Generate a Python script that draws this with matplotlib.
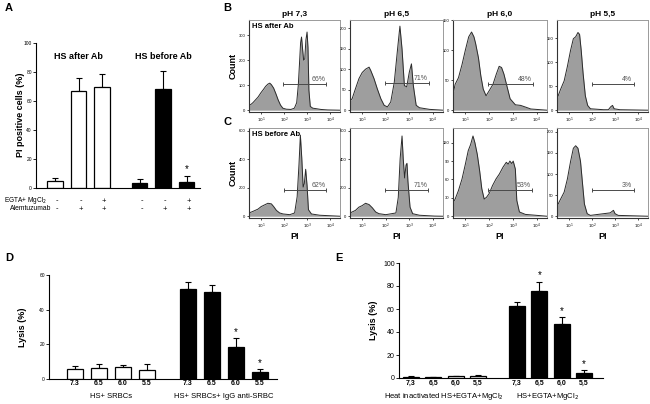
import numpy as np
import matplotlib
matplotlib.use("Agg")
import matplotlib.pyplot as plt

plt.rcParams['font.family'] = ['Liberation Sans', 'DejaVu Sans']

# ---- panel A data ----
a_vals = [5.0, 67.0, 70.0, 3.5, 68.0, 4.4]
a_err = [2.0, 8.7, 8.5, 2.5, 12.5, 4.0]
a_egta = ['-', '-', '+', '-', '-', '+']
a_alem = ['-', '+', '+', '-', '+', '+']
a_groups = ['HS after Ab', 'HS before Ab']

# ---- panel B/C histograms (x in log10 decades, y = count) ----
ph_titles = ['pH 7,3', 'pH 6,5', 'pH 6,0', 'pH 5,5']

b1_x = [0.46, 0.55, 0.65, 0.75, 0.87, 1.0, 1.1, 1.2, 1.3, 1.38, 1.45, 1.55, 1.65, 1.75, 1.85, 1.95, 2.1, 2.3,
        2.45, 2.55, 2.62, 2.68, 2.72, 2.76, 2.80, 2.85, 2.90, 2.95, 3.0, 3.04, 3.08, 3.14, 3.25, 3.4, 3.6, 3.9, 4.43]
b1_y = [20, 22, 30, 40, 52, 70, 82, 95, 104, 108, 102, 88, 65, 40, 20, 8, 4, 3,
        8, 30, 100, 200, 270, 292, 250, 200, 205, 280, 312, 250, 80, 15, 8, 6, 3, 1, 0]
b2_x = [0.43, 0.57, 0.71, 0.86, 1.0, 1.14, 1.29, 1.36, 1.5, 1.64, 1.79, 1.93, 2.07, 2.21, 2.36, 2.5, 2.6,
        2.69, 2.79, 2.89, 3.0, 3.09, 3.17, 3.29, 3.43, 3.86, 4.43]
b2_y = [20, 28, 52, 77, 92, 100, 105, 97, 77, 52, 28, 12, 8, 20, 68, 149, 205,
        149, 60, 57, 93, 113, 60, 12, 6, 2, 0]
b3_x = [0.45, 0.57, 0.71, 0.86, 1.0, 1.14, 1.26, 1.36, 1.43, 1.55, 1.65, 1.75, 1.87, 2.01, 2.16, 2.30, 2.42,
        2.52, 2.62, 2.74, 2.88, 3.10, 3.32, 3.54, 3.75, 4.43]
b3_y = [22, 43, 54, 76, 100, 122, 130, 122, 111, 87, 57, 35, 24, 33, 43, 60, 73,
        71, 60, 41, 19, 9, 8, 5, 2, 0]
b4_x = [0.48, 0.53, 0.64, 0.79, 0.93, 1.07, 1.19, 1.29, 1.39, 1.46, 1.53, 1.61, 1.71, 1.81, 1.93, 2.5, 2.71,
        2.81, 2.89, 2.96, 3.21, 4.43]
b4_y = [25, 30, 44, 61, 91, 125, 149, 153, 162, 158, 125, 78, 30, 10, 3, 1, 1,
        7, 10, 3, 1, 0]
c1_x = [0.48, 0.65, 0.87, 1.01, 1.16, 1.30, 1.45, 1.55, 1.67, 1.81, 1.96, 2.25, 2.46, 2.57, 2.65, 2.71, 2.77,
        2.83, 2.88, 2.94, 3.0, 3.06, 3.19, 3.55, 4.43]
c1_y = [23, 34, 50, 68, 80, 91, 87, 68, 41, 23, 16, 11, 23, 137, 365, 570, 410,
        205, 228, 330, 216, 46, 16, 7, 0]
c2_x = [0.43, 0.57, 0.71, 0.86, 1.0, 1.14, 1.29, 1.43, 1.57, 1.71, 2.0, 2.43, 2.53, 2.61, 2.69, 2.74, 2.8,
        2.86, 2.9, 2.94, 3.03, 3.14, 3.43, 4.07, 4.43]
c2_y = [18, 30, 41, 64, 75, 91, 82, 59, 30, 18, 11, 23, 132, 405, 564, 405, 269,
        360, 372, 246, 64, 18, 7, 1, 0]
c3_x = [0.45, 0.57, 0.71, 0.86, 1.0, 1.12, 1.22, 1.32, 1.40, 1.50, 1.60, 1.69, 1.79, 1.89, 2.0, 2.14, 2.29,
        2.43, 2.58, 2.72, 2.80, 2.87, 2.95, 3.01, 3.10, 3.16, 3.27, 3.52, 4.43]
c3_y = [20, 28, 42, 61, 85, 107, 117, 131, 120, 101, 74, 45, 28, 31, 37, 50, 61,
        69, 80, 88, 85, 90, 86, 90, 77, 26, 7, 3, 0]
c4_x = [0.48, 0.53, 0.64, 0.79, 0.93, 1.07, 1.19, 1.29, 1.39, 1.5, 1.59, 1.67, 1.79, 1.93, 2.21, 2.5, 2.79,
        2.93, 3.0, 3.14, 4.43]
c4_y = [25, 29, 41, 57, 88, 130, 161, 167, 161, 130, 76, 29, 6, 2, 4, 6, 8,
        14, 6, 2, 0]

b_hists = [(b1_x, b1_y), (b2_x, b2_y), (b3_x, b3_y), (b4_x, b4_y)]
c_hists = [(c1_x, c1_y), (c2_x, c2_y), (c3_x, c3_y), (c4_x, c4_y)]
b_ylims = [360, 220, 150, 188]
c_ylims = [620, 620, 144, 209]
b_yticks = [[0, 100, 200, 300], [0, 50, 100, 150, 200], [0, 50, 100, 150], [0, 50, 100, 150]]
c_yticks = [[0, 200, 400, 600], [0, 200, 400, 600], [0, 30, 60, 90, 120], [0, 50, 100, 150, 200]]
# gates: (start, end, level, label)
b_gates = [(1.96, 3.84, 104, '66%'), (1.97, 3.83, 66, '71%'), (1.94, 3.83, 43, '48%'), (1.99, 3.83, 55, '4%')]
c_gates = [(1.99, 3.84, 187, '62%'), (1.96, 3.79, 182, '71%'), (1.94, 3.81, 43, '53%'), (2.0, 3.81, 62, '3%')]

# ---- panel D data ----
d_ticks = ['7.3', '6.5', '6.0', '5.5']
d_white = [5.8, 6.2, 6.7, 5.2]
d_white_err = [1.9, 2.6, 1.6, 3.3]
d_black = [51.9, 50.0, 18.7, 4.0]
d_black_err = [4.3, 4.4, 4.8, 1.6]
d_groups = ['HS+ SRBCs', 'HS+ SRBCs+ IgG anti-SRBC']

# ---- panel E data ----
e_ticks = ['7,3', '6,5', '6,0', '5,5']
e_white = [1.2, 0.6, 1.4, 2.0]
e_white_err = [0.3, 0.3, 0.3, 0.3]
e_black = [62.5, 75.5, 46.7, 4.3]
e_black_err = [3.8, 7.8, 6.0, 2.3]
e_groups = ['Heat inactivated HS+EGTA+MgCl$_2$', 'HS+EGTA+MgCl$_2$']

W, H = 650, 404
fig = plt.figure(figsize=(W / 100, H / 100), dpi=100)


def ax_px(x0, y0, x1, y1):
    return fig.add_axes([x0 / W, 1 - y1 / H, (x1 - x0) / W, (y1 - y0) / H])


def style_bar_axes(ax, fs):
    for s in ['top', 'right']:
        ax.spines[s].set_visible(False)
    for s in ['left', 'bottom']:
        ax.spines[s].set_linewidth(0.8)
    ax.tick_params(axis='y', labelsize=fs, length=2, width=0.6, pad=1)
    ax.tick_params(axis='x', length=0, pad=1)


def bars(ax, x, vals, errs, color, width):
    ax.bar(x, vals, width=width, color=color, edgecolor='black', linewidth=0.9, zorder=2)
    ax.errorbar(x, vals, yerr=[np.zeros(len(vals)), errs], fmt='none', ecolor='black',
                elinewidth=0.8, capsize=2.5, capthick=0.8, zorder=1)


def fig_text(x, y, s, **kw):
    fig.text(x / W, 1 - y / H, s, **kw)


# ---------- Panel A ----------
ax = ax_px(36, 43, 200, 188)
xa = np.r_[np.arange(3), np.arange(3) + 3.6]
cols = ['white'] * 3 + ['black'] * 3
for xi, v, e, c in zip(xa, a_vals, a_err, cols):
    bars(ax, [xi], [v], [e], c, 0.65)
ax.set_xlim(-0.81, 6.17)
ax.set_ylim(0, 100)
ax.set_yticks(range(0, 101, 20))
ax.set_xticks([])
style_bar_axes(ax, 3.5)
ax.text(xa[5], a_vals[5] + a_err[5] + 1.2, '*', ha='center', va='bottom', fontsize=7)
ax.text(xa[1], 91, a_groups[0], ha='center', va='center', fontsize=6.5, fontweight='bold')
ax.text(xa[4], 91, a_groups[1], ha='center', va='center', fontsize=6.5, fontweight='bold')
tr = ax.get_xaxis_transform()
for xi, s1, s2 in zip(xa, a_egta, a_alem):
    ax.text(xi + 0.08, -0.09, s1, transform=tr, ha='center', va='center', fontsize=5.5)
    ax.text(xi + 0.08, -0.145, s2, transform=tr, ha='center', va='center', fontsize=5.5)
fig_text(47, 201, 'EGTA+ MgCl$_2$', ha='right', va='center', fontsize=4.7)
fig_text(51, 209, 'Alemtuzumab', ha='right', va='center', fontsize=4.9)
fig_text(21, 115, 'PI positive cells (%)', ha='center', va='center', rotation=90,
         fontsize=6.5, fontweight='bold')

# ---------- Panels B and C ----------
box_x = [(249, 340), (350, 443), (453, 547), (557, 648)]
rows = [(20, 112, b_hists, b_ylims, b_yticks, b_gates), (128, 218, c_hists, c_ylims, c_yticks, c_gates)]
for r, (y0, y1, hists, ylims, yticks, gates) in enumerate(rows):
    for i, (x0, x1) in enumerate(box_x):
        ax = ax_px(x0, y0, x1, y1)
        hx, hy = hists[i]
        ax.fill_between(hx, hy, 0, color='#9e9e9e', lw=0, zorder=1)
        ax.plot(hx, hy, color='#2b2b2b', lw=0.7, zorder=2)
        ax.set_xlim(0.48, 4.43)
        ax.set_ylim(-ylims[i] * 0.02, ylims[i])
        ax.set_yticks(yticks[i])
        ax.set_xticks([1, 2, 3, 4])
        ax.set_xticklabels(['$10^{%d}$' % k for k in range(1, 5)])
        ax.tick_params(labelsize=3, length=1.5, width=0.5, pad=1)
        for s in ['top', 'right']:
            ax.spines[s].set_color('#9a9a9a')
            ax.spines[s].set_linewidth(0.7)
        for s in ['left', 'bottom']:
            ax.spines[s].set_color('#333333')
            ax.spines[s].set_linewidth(0.8)
        g0, g1, gy, gl = gates[i]
        ax.plot([g0, g1], [gy, gy], color='#4a4a4a', lw=0.7, marker='|', ms=3, mew=0.7, zorder=3)
        ax.text((g0 + g1) / 2 + 0.6, gy + ylims[i] * 0.01, gl, ha='center', va='bottom',
                fontsize=5, color='#555555', zorder=3)
        if r == 0:
            ax.set_title(ph_titles[i], fontsize=6, fontweight='bold', pad=3)
        else:
            ax.set_xlabel('PI', fontsize=6.5, fontweight='bold', labelpad=1)
        if i == 0:
            ax.text(0.03, 0.97, 'HS after Ab' if r == 0 else 'HS before Ab', transform=ax.transAxes,
                    ha='left', va='top', fontsize=5.5, fontweight='bold')
            ax.set_ylabel('Count', fontsize=6.5, fontweight='bold', labelpad=1)

# ---------- Panel D ----------
ax = ax_px(49, 275, 277, 379)
xd_w = np.arange(4)
xd_b = np.arange(4) + 4.7
bars(ax, xd_w, d_white, d_white_err, 'white', 0.67)
bars(ax, xd_b, d_black, d_black_err, 'black', 0.67)
for k in [2, 3]:
    ax.text(xd_b[k], d_black[k] + d_black_err[k] + 0.8, '*', ha='center', va='bottom', fontsize=7)
ax.set_xlim(-1.08, 8.42)
ax.set_ylim(0, 60)
ax.set_yticks(range(0, 61, 20))
ax.set_xticks(np.r_[xd_w, xd_b])
ax.set_xticklabels(d_ticks * 2, fontsize=5, fontweight='bold')
style_bar_axes(ax, 3.5)
ax.set_ylabel('Lysis (%)', fontsize=6.5, fontweight='bold', labelpad=9)
fig_text(111, 396, d_groups[0], ha='center', va='center', fontsize=5.5)
fig_text(224, 396, d_groups[1], ha='center', va='center', fontsize=5.5)

# ---------- Panel E ----------
ax = ax_px(399, 263, 603, 378)
xe_w = np.arange(4)
xe_b = np.arange(4) + 4.75
bars(ax, xe_w, e_white, e_white_err, 'white', 0.72)
bars(ax, xe_b, e_black, e_black_err, 'black', 0.72)
for k in [1, 2, 3]:
    ax.text(xe_b[k], e_black[k] + e_black_err[k] + 1.5, '*', ha='center', va='bottom', fontsize=7)
ax.set_xlim(-0.54, 8.6)
ax.set_ylim(0, 100)
ax.set_yticks(range(0, 101, 20))
ax.set_xticks(np.r_[xe_w, xe_b])
ax.set_xticklabels(e_ticks * 2, fontsize=5, fontweight='bold')
style_bar_axes(ax, 5)
ax.set_ylabel('Lysis (%)', fontsize=6.5, fontweight='bold', labelpad=4)
fig_text(444, 396, e_groups[0], ha='center', va='center', fontsize=5.5)
fig_text(548, 396, e_groups[1], ha='center', va='center', fontsize=5.5)

# ---------- panel letters ----------
for s, x, y in [('A', 5, 8), ('B', 223, 8), ('C', 223, 122), ('D', 5, 258), ('E', 335, 258)]:
    fig_text(x, y, s, ha='left', va='center', fontsize=8, fontweight='bold')

fig.savefig('out.png', dpi=100)
